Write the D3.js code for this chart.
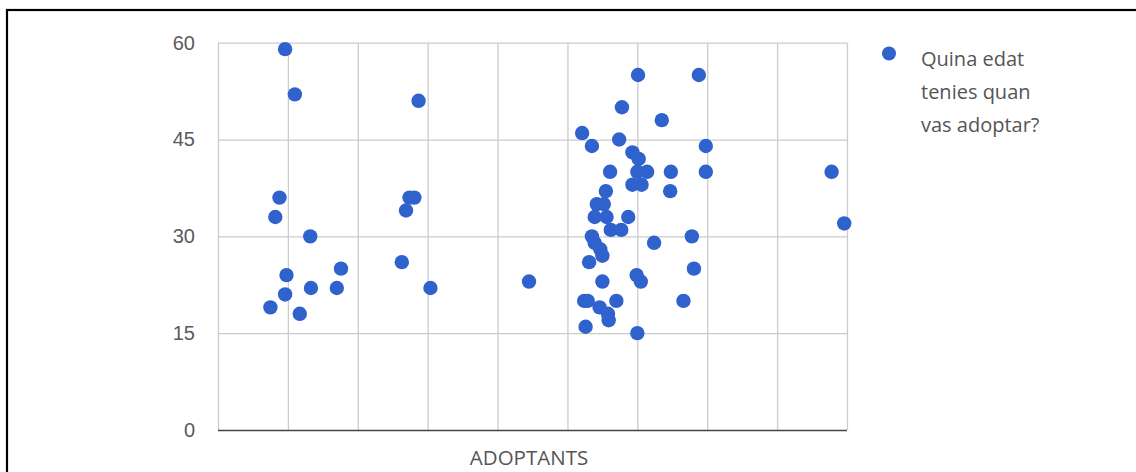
<!DOCTYPE html>
<html>
<head>
<meta charset="utf-8">
<script src="https://cdn.jsdelivr.net/npm/d3@7"></script>
<style>
  html, body { margin: 0; padding: 0; background: #fff; }
  svg { display: block; }
</style>
</head>
<body>
<svg id="chart" width="1136" height="472"></svg>
<script>
// Scatter of ages at adoption, horizontal position along the category band
const axisTitle = "ADOPTANTS";
const seriesLines = ["Quina edat", "tenies quan", "vas adoptar?"];
const yTicks = [0, 15, 30, 45, 60];
const xGrid = [0, 1, 2, 3, 4, 5, 6, 7, 8, 9];

// horizontal position of each respondent (grid units)
const xPos = [
  0.96, 1.10, 0.88, 0.82, 1.32, 0.98, 0.96, 0.75, 1.17, 1.33, 1.70, 1.76,
  2.87, 2.74, 2.81, 2.69, 2.63, 3.04, 4.45,
  6.01, 6.88, 5.78, 6.35, 5.21, 5.74, 5.35, 6.98, 5.93, 6.02,
  5.61, 6.00, 6.14, 6.48, 6.98, 5.93, 6.06, 5.55, 6.47,
  5.42, 5.52, 5.39, 5.56, 5.87, 5.62, 5.77, 5.35, 5.39, 5.47, 5.50, 5.31,
  6.78, 6.24, 6.81, 5.99, 6.05, 5.50, 5.24, 5.29, 5.70, 6.66,
  5.46, 5.58, 5.59, 5.26, 6.00,
  8.78, 8.96
];
// age when they adopted
const ages = [
  59, 52, 36, 33, 30, 24, 21, 19, 18, 22, 22, 25,
  51, 36, 36, 34, 26, 22, 23,
  55, 55, 50, 48, 46, 45, 44, 44, 43, 42,
  40, 40, 40, 40, 40, 38, 38, 37, 37,
  35, 35, 33, 33, 33, 31, 31, 30, 29, 28, 27, 26,
  30, 29, 25, 24, 23, 23, 20, 20, 20, 20,
  19, 18, 17, 16, 15,
  40, 32
];

const svg = d3.select("#chart");
const dotColor = "#2f62cc";
const plotLeft = 218, plotRight = 847, plotTop = 42.7, plotBottom = 430;

const x = d3.scaleLinear().domain([0, 9]).range([plotLeft, plotRight]);
const y = d3.scaleLinear().domain([0, 60]).range([plotBottom, plotTop]);

// outer frame
svg.append("rect")
  .attr("x", 7).attr("y", 10)
  .attr("width", 1200).attr("height", 600)
  .attr("fill", "none").attr("stroke", "#000").attr("stroke-width", 2.2);

// vertical gridlines
const xAxis = svg.append("g")
  .attr("transform", `translate(0,${plotBottom})`)
  .call(d3.axisBottom(x).tickValues(xGrid).tickSize(-(plotBottom - plotTop)).tickFormat(""));
xAxis.select(".domain").remove();
xAxis.selectAll(".tick line").attr("stroke", "#cccccc").attr("stroke-width", 1.3);

// horizontal gridlines and value labels
const yAxis = svg.append("g")
  .attr("transform", `translate(${plotLeft},0)`)
  .call(d3.axisLeft(y).tickValues(yTicks).tickSize(-(plotRight - plotLeft)).tickPadding(23));
yAxis.select(".domain").remove();
yAxis.selectAll(".tick line")
  .attr("stroke", d => d === 0 ? "#444" : "#cccccc")
  .attr("stroke-width", d => d === 0 ? 1.6 : 1.3);
yAxis.selectAll(".tick text")
  .attr("fill", "#5a5a5a")
  .style("font-family", "'Liberation Sans', Arial, sans-serif")
  .style("font-size", "20px");

// points
svg.append("g")
  .selectAll("circle")
  .data(ages)
  .join("circle")
  .attr("cx", (d, i) => x(xPos[i]))
  .attr("cy", d => y(d))
  .attr("r", 7.2)
  .attr("fill", dotColor);

// axis title
svg.append("text")
  .attr("x", 529)
  .attr("y", 465)
  .attr("text-anchor", "middle")
  .attr("fill", "#555")
  .style("font-family", "'Open Sans', sans-serif")
  .style("font-size", "20.5px")
  .text(axisTitle);

// legend
const legend = svg.append("g");
legend.append("circle")
  .attr("cx", 889).attr("cy", 53.5).attr("r", 7)
  .attr("fill", dotColor);
legend.selectAll("text")
  .data(seriesLines)
  .join("text")
  .attr("x", 921)
  .attr("y", (d, i) => 66 + i * 32.8)
  .attr("fill", "#555")
  .style("font-family", "'Open Sans', sans-serif")
  .style("font-size", "20px")
  .text(d => d);
</script>
</body>
</html>
